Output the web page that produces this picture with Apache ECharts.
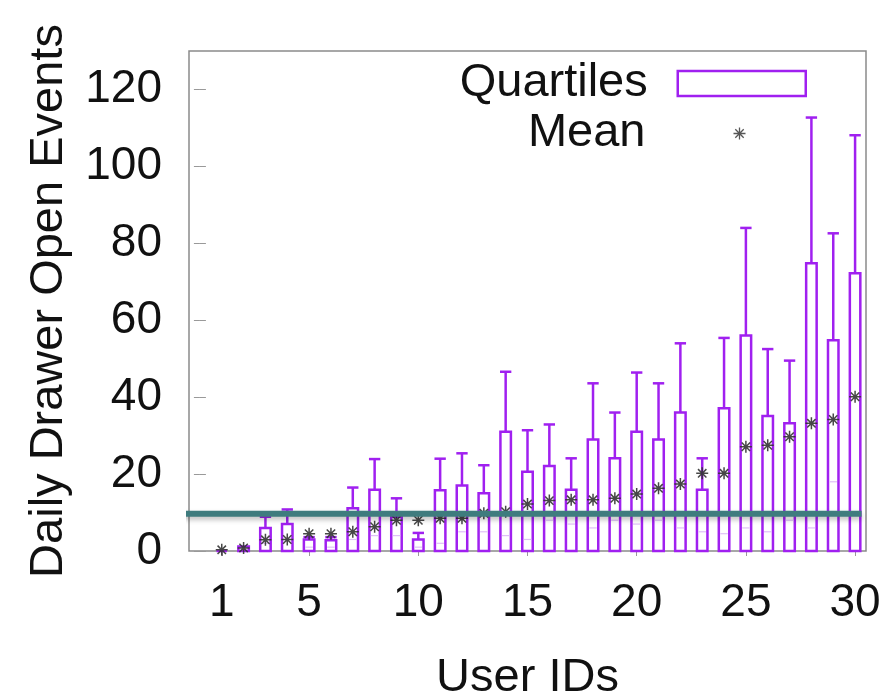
<!DOCTYPE html>
<html>
<head>
<meta charset="utf-8">
<script src="https://cdn.jsdelivr.net/npm/echarts@6/dist/echarts.min.js"></script>
<style>
* { margin: 0; padding: 0; }
html, body { width: 887px; height: 698px; background: #fff; }
#chart { width: 887px; height: 698px; }
</style>
</head>
<body>
<div id="chart"></div>
<script>
// user ids on the x axis
var users = [1, 2, 3, 4, 5, 6, 7, 8, 9, 10, 11, 12, 13, 14, 15, 16, 17, 18, 19, 20, 21, 22, 23, 24, 25, 26, 27, 28, 29, 30];
// quartile boxes (lower / upper), whisker top, median, mean
var q1 = [0, 0, 0, 0, 0, 0, 0, 0, 0, 0, 0, 0, 0, 0, 0, 0, 0, 0, 0, 0, 0, 0, 0, 0, 0, 0, 0, 0, 0, 0];
var q3 = [0, 1.2, 6.0, 7.0, 3.0, 2.8, 11.1, 15.9, 8.9, 3.0, 15.8, 17.0, 15.0, 31.0, 20.6, 22.1, 15.9, 29.0, 24.1, 31.0, 29.0, 36.0, 15.9, 37.1, 56.0, 35.1, 33.2, 74.8, 54.8, 72.2];
var whiskerTop = [0, 1.2, 8.9, 10.8, 3.6, 3.6, 16.5, 23.9, 13.7, 4.7, 24.0, 25.4, 22.3, 46.6, 31.4, 32.9, 24.1, 43.6, 36.0, 46.4, 43.6, 54.0, 24.1, 55.4, 84.0, 52.5, 49.5, 112.7, 82.6, 108.1];
var medians = [0, 0.5, 2, 3, 1, 1, 3, 4, 4, 1, 2, 5, 5, 4, 3, 8, 7, 6, 8, 7, 8, 6, 5, 4.5, 6, 5, 8, 6, 18, 10];
var means = [0.3, 0.8, 2.9, 3.0, 4.5, 4.5, 5.0, 6.3, 8.0, 8.0, 8.5, 8.5, 9.8, 10.2, 12.2, 13.1, 13.3, 13.3, 13.7, 14.8, 16.3, 17.4, 20.2, 20.2, 27.1, 27.5, 29.7, 33.2, 34.2, 40.1];
// reference line
var refLevel = 9.7;
var refSpan = [-0.8, 30.3];
// tick labels
var xTicks = [1, 5, 10, 15, 20, 25, 30];
var yTicks = [0, 20, 40, 60, 80, 100, 120];

var purple = '#a020f0';
var fontFam = "'Liberation Sans', Arial, Helvetica, sans-serif";
var star = 'path://M0,5L10,5M5,0L5,10M1.5,1.5L8.5,8.5M8.5,1.5L1.5,8.5';

var boxData = users.map(function (u, i) {
  return [u, q1[i], q3[i], whiskerTop[i], medians[i]];
});
var meanData = users.map(function (u, i) {
  return [u, means[i]];
});

function renderBox(params, api) {
  var x = api.value(0);
  var pLo = api.coord([x, api.value(1)]);
  var pHi = api.coord([x, api.value(2)]);
  var pTop = api.coord([x, api.value(3)]);
  var pMed = api.coord([x, api.value(4)]);
  var unit = api.size([1, 0])[0];
  var half = unit * 0.24;
  var capHalf = unit * 0.26;
  var kids = [];
  if (pTop[1] < pHi[1] - 0.5) {
    kids.push({
      type: 'line',
      shape: { x1: pHi[0], y1: pHi[1], x2: pTop[0], y2: pTop[1] },
      style: { stroke: purple, lineWidth: 2.5 }
    });
    kids.push({
      type: 'line',
      shape: { x1: pTop[0] - capHalf, y1: pTop[1], x2: pTop[0] + capHalf, y2: pTop[1] },
      style: { stroke: purple, lineWidth: 2.5 }
    });
  }
  kids.push({
    type: 'rect',
    shape: { x: pLo[0] - half, y: pHi[1], width: half * 2, height: pLo[1] - pHi[1] },
    style: { fill: '#fff', stroke: purple, lineWidth: 2.5 }
  });
  if (pMed[1] < pLo[1] - 2 && pMed[1] > pHi[1] + 2) {
    kids.push({
      type: 'line',
      shape: { x1: pMed[0] - half + 1.5, y1: pMed[1], x2: pMed[0] + half - 1.5, y2: pMed[1] },
      style: { stroke: '#dfbff8', lineWidth: 1.2 }
    });
  }
  return { type: 'group', children: kids };
}

var chart = echarts.init(document.getElementById('chart'));
chart.setOption({
  animation: false,
  textStyle: { fontFamily: fontFam },
  grid: {
    left: 189, right: 21, top: 51, bottom: 147,
    outerBoundsMode: 'none',
    show: true, borderColor: '#8a8a8a', borderWidth: 1.5, backgroundColor: 'transparent'
  },
  legend: [{
    right: 80, top: 60, padding: 0, orient: 'vertical', align: 'right',
    itemWidth: 128, itemHeight: 25, selectedMode: false,
    textStyle: { fontSize: 47, color: '#111', fontFamily: fontFam, padding: [0, 25, 0, 0] },
    data: [{ name: 'Quartiles', icon: 'rect', itemStyle: { color: '#fff', borderColor: purple, borderWidth: 2.5 } }]
  }, {
    right: 139, top: 110, padding: 0, orient: 'vertical', align: 'right',
    itemWidth: 128, itemHeight: 12, selectedMode: false,
    textStyle: { fontSize: 47, color: '#111', fontFamily: fontFam, padding: [0, 25, 0, 0] },
    data: [{ name: 'Mean', icon: star, itemStyle: { color: 'none', borderColor: '#444', borderWidth: 1.3 } }]
  }],
  xAxis: [{
    type: 'value', min: -0.5, max: 30.5,
    name: 'User IDs', nameLocation: 'middle', nameGap: 104,
    nameTextStyle: { fontSize: 47, color: '#111', fontFamily: fontFam },
    axisLine: { show: false },
    splitLine: { show: false },
    axisTick: { show: false },
    axisLabel: { customValues: xTicks, fontSize: 46, color: '#111', margin: 29, fontFamily: fontFam }
  }, {
    type: 'value', min: -0.5, max: 30.5, position: 'top',
    axisLine: { show: false }, splitLine: { show: false }, axisLabel: { show: false },
    axisTick: { show: true, inside: true, length: 5, customValues: xTicks, lineStyle: { color: '#999' } }
  }],
  yAxis: [{
    type: 'value', min: 0, max: 130,
    name: 'Daily Drawer Open Events', nameLocation: 'middle', nameGap: 116,
    nameTextStyle: { fontSize: 47, color: '#111', fontFamily: fontFam },
    axisLine: { show: false },
    splitLine: { show: false },
    axisTick: { show: true, inside: true, length: 6, customValues: yTicks, lineStyle: { color: '#999' } },
    axisLabel: { customValues: yTicks, fontSize: 46, color: '#111', margin: 27, fontFamily: fontFam }
  }, {
    type: 'value', min: 0, max: 130, position: 'right',
    axisLine: { show: false }, splitLine: { show: false }, axisLabel: { show: false },
    axisTick: { show: true, inside: true, length: 6, customValues: yTicks, lineStyle: { color: '#999' } }
  }],
  series: [{
    name: 'Quartiles',
    type: 'custom',
    renderItem: renderBox,
    encode: { x: 0, y: [1, 2, 3] },
    data: boxData,
    z: 2
  }, {
    name: 'Mean',
    type: 'scatter',
    symbol: star,
    symbolSize: 12,
    itemStyle: { color: 'none', borderColor: '#333', borderWidth: 1.5, opacity: 0.9 },
    data: meanData,
    z: 3
  }, {
    name: 'ref',
    type: 'line',
    showSymbol: false,
    clip: false,
    silent: true,
    lineStyle: {
      color: '#3f7c7e', width: 6,
      shadowColor: 'rgba(0,0,0,0.25)', shadowBlur: 5, shadowOffsetY: 3
    },
    data: [[refSpan[0], refLevel], [refSpan[1], refLevel]],
    z: 4
  }]
});
</script>
</body>
</html>
